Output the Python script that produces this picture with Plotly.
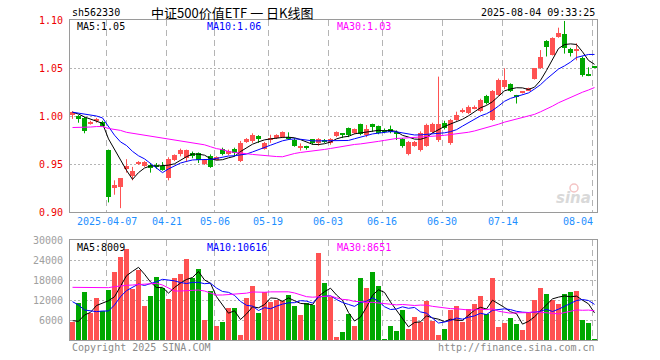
import numpy as np
import pandas as pd
import plotly.graph_objects as go

# ---------------- data ----------------
dates = ["03-27", "03-28", "03-31",
         "04-01", "04-02", "04-03", "04-07", "04-08", "04-09", "04-10", "04-11",
         "04-14", "04-15", "04-16", "04-17", "04-18", "04-21", "04-22", "04-23", "04-24", "04-25",
         "04-28", "04-29", "04-30",
         "05-06", "05-07", "05-08", "05-09", "05-12", "05-13", "05-14", "05-15", "05-16",
         "05-19", "05-20", "05-21", "05-22", "05-23", "05-26", "05-27", "05-28", "05-29", "05-30",
         "06-03", "06-04", "06-05", "06-06", "06-09", "06-10", "06-11", "06-12", "06-13",
         "06-16", "06-17", "06-18", "06-19", "06-20", "06-23", "06-24", "06-25", "06-26", "06-27",
         "06-30", "07-01", "07-02", "07-03", "07-04", "07-07", "07-08", "07-09", "07-10", "07-11",
         "07-14", "07-15", "07-16", "07-17", "07-18", "07-21", "07-22", "07-23", "07-24", "07-25",
         "07-28", "07-29", "07-30", "07-31", "08-01", "08-04"]

opens = [1.002, 1.000, 0.9976, 0.9924, 0.995, 0.9934, 0.9646, 0.926, 0.926, 0.945,
         0.937, 0.950, 0.948, 0.949, 0.948, 0.948, 0.935, 0.954, 0.960, 0.956,
         0.961, 0.961, 0.950, 0.958, 0.955, 0.9653, 0.9604, 0.9653, 0.953, 0.9732,
         0.974, 0.979, 0.966, 0.975, 0.977, 0.978, 0.978, 0.975, 0.967, 0.9675,
         0.9757, 0.972, 0.975, 0.972, 0.9795, 0.9815, 0.987, 0.9826, 0.9915, 0.980,
         0.9917, 0.9896, 0.9854, 0.9865, 0.9837, 0.976, 0.960, 0.969, 0.965, 0.969,
         0.983, 0.975, 0.993, 0.972, 0.996, 1.005, 1.0032, 1.008, 1.005, 1.0208,
         0.996, 1.022, 1.0305, 1.0333, 1.021, 1.024, 1.027, 1.039, 1.0497, 1.078,
         1.0635, 1.082, 1.085, 1.0695, 1.068, 1.060, 1.0425, 1.0505]
highs = [1.005, 1.001, 0.999, 0.995, 0.998, 0.995, 0.965, 0.933, 0.935, 0.955,
         0.947, 0.953, 0.953, 0.951, 0.951, 0.952, 0.957, 0.960, 0.966, 0.965,
         0.963, 0.962, 0.955, 0.960, 0.958, 0.967, 0.965, 0.967, 0.974, 0.977,
         0.982, 0.980, 0.973, 0.9805, 0.981, 0.984, 0.983, 0.977, 0.9715, 0.969,
         0.976, 0.977, 0.976, 0.977, 0.984, 0.982, 0.988, 0.987, 0.992, 0.9906,
         0.992, 0.990, 0.987, 0.990, 0.985, 0.977, 0.974, 0.974, 0.984, 0.992,
         0.993, 1.041, 0.995, 0.997, 1.0045, 1.008, 1.011, 1.011, 1.018, 1.022,
         1.027, 1.039, 1.0497, 1.034, 1.022, 1.026, 1.0295, 1.050, 1.0687, 1.079,
         1.082, 1.092, 1.099, 1.071, 1.0757, 1.062, 1.0507, 1.0505]
lows = [0.997, 0.993, 0.982, 0.991, 0.993, 0.989, 0.910, 0.918, 0.904, 0.941,
        0.933, 0.949, 0.947, 0.941, 0.945, 0.943, 0.933, 0.953, 0.958, 0.952,
        0.956, 0.951, 0.949, 0.946, 0.954, 0.959, 0.959, 0.958, 0.952, 0.972,
        0.972, 0.972, 0.965, 0.972, 0.976, 0.977, 0.975, 0.968, 0.964, 0.965,
        0.970, 0.969, 0.972, 0.970, 0.978, 0.977, 0.978, 0.981, 0.980, 0.978,
        0.9837, 0.981, 0.982, 0.982, 0.975, 0.967, 0.959, 0.968, 0.963, 0.968,
        0.982, 0.973, 0.986, 0.970, 0.995, 1.003, 1.002, 1.007, 1.004, 1.012,
        0.995, 1.021, 1.028, 1.025, 1.013, 1.0235, 1.026, 1.038, 1.049, 1.062,
        1.063, 1.0815, 1.065, 1.062, 1.058, 1.041, 1.0415, 1.050]
closes = [1.004, 0.997, 0.984, 0.994, 0.9966, 0.990, 0.916, 0.928, 0.935, 0.948,
          0.943, 0.951, 0.952, 0.946, 0.947, 0.944, 0.955, 0.959, 0.965, 0.965,
          0.958, 0.954, 0.954, 0.947, 0.957, 0.9604, 0.9639, 0.9615, 0.972, 0.9757,
          0.980, 0.976, 0.972, 0.977, 0.980, 0.9835, 0.977, 0.969, 0.9675, 0.967,
          0.972, 0.9757, 0.9735, 0.976, 0.9837, 0.981, 0.980, 0.9865, 0.9815, 0.9865,
          0.989, 0.982, 0.9837, 0.9837, 0.981, 0.9688, 0.9732, 0.973, 0.9826, 0.991,
          0.992, 0.9917, 0.988, 0.9958, 1.0015, 1.006, 1.0097, 1.009, 1.0167, 1.0135,
          1.0258, 1.0375, 1.0375, 1.0264, 1.020, 1.025, 1.029, 1.0497, 1.0618, 1.072,
          1.081, 1.0868, 1.0705, 1.0653, 1.069, 1.0427, 1.042, 1.050]
volumes = [5500, 11000, 14500, 8000, 12700, 8700, 15000, 20500, 24900, 27300,
           15300, 21000, 10200, 13200, 18900, 15700, 12300, 18700, 19800, 24300,
           18700, 21300, 6000, 14700, 4300, 5500, 9700, 9700, 1500, 12700,
           16200, 8200, 14500, 11500, 12000, 11700, 13500, 10200, 7500, 11200,
           10500, 26200, 17000, 12800, 1000, 2500, 7900, 4300, 18700, 15700,
           20500, 16200, 300, 4300, 2700, 9000, 3400, 6900, 5300, 11700,
           5800, 1500, 3300, 8900, 10200, 5500, 9300, 10800, 13200, 7700,
           18700, 4000, 5200, 6700, 4900, 3000, 8200, 12000, 15700, 13800,
           12000, 10800, 13800, 14500, 14700, 6000, 5200, 300]

ma5_head = [1.004, 1.002, 0.999, 0.997]
ma10_head = [1.004, 1.003, 1.002, 1.001, 1.000, 0.998, 0.989, 0.980, 0.973]
ma30_head = [0.988, 0.988, 0.988, 0.9885, 0.989, 0.989, 0.987, 0.986, 0.985, 0.983,
             0.982, 0.981, 0.980, 0.979, 0.978, 0.977, 0.9765, 0.9755, 0.9745, 0.9735,
             0.9725, 0.971, 0.970, 0.968, 0.966, 0.965, 0.963, 0.962, 0.961]
vma5_head = [5800, 5600, 7500, 8300]
vma10_head = [11500, 10500, 9000, 8700, 8500, 8700, 8700, 10500, 13000]
vma30_head = [15800, 15800, 15700, 15700, 15600, 15600, 15700, 16000, 16300, 16400,
              16500, 16600, 16700, 16800, 17000, 16500, 15500, 14700, 14700, 14800,
              14800, 15000, 14700, 14200, 13500, 13500, 13600, 13700, 13900]

grid_dates = ["04-07", "04-21", "05-06", "05-19", "06-03", "06-16", "06-30", "07-14", "08-04"]
grid_labels = ["2025-04-07", "04-21", "05-06", "05-19", "06-03", "06-16", "06-30", "07-14", "08-04"]
price_ticks = [0.90, 0.95, 1.00, 1.05, 1.10]
price_ticktext = ["0.90", "0.95", "1.00", "1.05", "1.10"]
vol_ticks = [6000, 12000, 18000, 24000, 30000]
vol_ticktext = ["6000", "12000", "18000", "24000", "30000"]

code = "sh562330"
title = "中证500价值ETF 一 日K线图"
stamp = "2025-08-04 09:33:25"
ma_price_text = ["MA5:1.05", "MA10:1.06", "MA30:1.03"]
ma_vol_text = ["MA5:8009", "MA10:10616", "MA30:8651"]

# ---------------- derived ----------------
n = len(closes)
idx = np.arange(n)
o = np.array(opens); h = np.array(highs); l = np.array(lows); c = np.array(closes)
vol = np.array(volumes, dtype=float)

RED = "#ff5252"
GREEN = "#00a800"
up = c > o
colors = [RED if u else GREEN for u in up]


def ma(values, win, head):
    s = pd.Series(values).rolling(win).mean().to_numpy()
    s[:win - 1] = head
    return s


ma5 = ma(c, 5, ma5_head)
ma10 = ma(c, 10, ma10_head)
ma30 = ma(c, 30, ma30_head)
vma5 = ma(vol, 5, vma5_head)
vma10 = ma(vol, 10, vma10_head)
vma30 = ma(vol, 30, vma30_head)

# plot geometry (pixels) -> paper coords
L, R, T, B = 70, 597, 20, 340


def px(x):
    return (x - L) / (R - L)


def py(y):
    return (B - y) / (B - T)


fig = go.Figure()

# wicks
for want_up, col in [(True, RED), (False, GREEN)]:
    xs, ys = [], []
    for i in range(n):
        if bool(up[i]) == want_up:
            xs += [i, i, None]
            ys += [l[i], h[i], None]
    fig.add_trace(go.Scatter(x=xs, y=ys, mode="lines", line=dict(color=col, width=1),
                             hoverinfo="skip", showlegend=False, xaxis="x", yaxis="y"))

# bodies
base = np.minimum(o, c)
height = np.maximum(np.abs(c - o), 0.0011)
fig.add_trace(go.Bar(x=idx, y=height, base=base, width=5 / 6, marker=dict(color=colors, line=dict(width=0)),
                     showlegend=False, xaxis="x", yaxis="y"))

# price MAs
for vals, col in [(ma5, "#000000"), (ma10, "#0000ff"), (ma30, "#ff00ff")]:
    fig.add_trace(go.Scatter(x=idx, y=vals, mode="lines", line=dict(color=col, width=1),
                             showlegend=False, hoverinfo="skip", xaxis="x", yaxis="y"))

# volume bars
fig.add_trace(go.Bar(x=idx, y=vol, width=5 / 6, marker=dict(color=colors, line=dict(width=0)),
                     showlegend=False, xaxis="x2", yaxis="y2"))
for vals, col in [(vma5, "#000000"), (vma10, "#0000ff"), (vma30, "#ff00ff")]:
    fig.add_trace(go.Scatter(x=idx, y=vals, mode="lines", line=dict(color=col, width=1),
                             showlegend=False, hoverinfo="skip", xaxis="x2", yaxis="y2"))

grid_t = [dates.index(d) - 1 / 3 for d in grid_dates]
xr = [-5 / 12, n - 1 + 5 / 12]
mono = "DejaVu Sans Mono"
common_x = dict(range=xr, showticklabels=False, tickvals=grid_t, ticks="", showgrid=True,
                griddash="6px,4px", gridcolor="#b4b4b4", gridwidth=1, showline=True, mirror=True,
                linecolor="#9a9a9a", linewidth=1, zeroline=False, fixedrange=True)
fig.update_layout(
    width=660, height=360,
    margin=dict(l=L, r=660 - R, t=T, b=360 - B, pad=0),
    paper_bgcolor="white", plot_bgcolor="white",
    barmode="overlay", bargap=0,
    showlegend=False,
    xaxis=dict(domain=[0, 1], anchor="y", **common_x),
    xaxis2=dict(domain=[0, 1], anchor="y2", matches="x", **common_x),
    yaxis=dict(domain=[py(212), 1], range=[0.90, 1.10], tickvals=price_ticks, ticktext=price_ticktext,
               tickfont=dict(family=mono, size=10, color="#ee0000"), ticks="outside", ticklen=4,
               tickcolor="rgba(0,0,0,0)", showgrid=True, griddash="2px,2px", gridcolor="#b4b4b4",
               showline=True, mirror=True, linecolor="#9a9a9a", linewidth=1, zeroline=False),
    yaxis2=dict(domain=[0, py(240)], range=[0, 30000], tickvals=vol_ticks, ticktext=vol_ticktext,
                tickfont=dict(family=mono, size=10, color="#a0a0a0"), ticks="outside", ticklen=4,
                tickcolor="rgba(0,0,0,0)", showgrid=True, griddash="2px,2px", gridcolor="#b4b4b4",
                showline=True, mirror=True, linecolor="#9a9a9a", linewidth=1, zeroline=False),
)

ann = []


def add_text(text, x, y, color="#000", size=10, xanchor="left", family=mono, **kw):
    ann.append(dict(text=text, x=px(x), y=py(y), xref="paper", yref="paper", showarrow=False,
                    xanchor=xanchor, yanchor="middle", font=dict(family=family, size=size, color=color), **kw))


add_text(code, 70, 12.5)
add_text(title, 232, 12, size=13, xanchor="center", family="Noto Sans CJK SC")
add_text(stamp, 597, 12.5, xanchor="right")
for txt, x0, col in zip(ma_price_text, [75, 205, 335], ["#000000", "#0000ff", "#ff00ff"]):
    add_text(txt, x0, 27, color=col)
for txt, x0, col in zip(ma_vol_text, [75, 205, 335], ["#000000", "#0000ff", "#ff00ff"]):
    add_text(txt, x0, 247, color=col)
for k, (g, lab) in enumerate(zip(grid_t, grid_labels)):
    xpix = L + (g - xr[0]) * (R - L) / (xr[1] - xr[0])
    if k == len(grid_labels) - 1:
        add_text(lab, 595, 221, color="#1e8fff", xanchor="right")
    else:
        add_text(lab, xpix, 221, color="#1e8fff", xanchor="center")
add_text("Copyright 2025 SINA.COM", 70, 347, color="#8a8a8a")
add_text("http://finance.sina.com.cn", 597, 347, color="#8a8a8a", xanchor="right")
ann.append(dict(text="<b><i>sina</i></b>", x=px(573), y=py(198), xref="paper", yref="paper",
                showarrow=False, xanchor="center", yanchor="middle",
                font=dict(family="DejaVu Sans", size=15, color="#d9d9d9")))
fig.update_layout(annotations=ann)
fig.add_shape(type="circle", xref="paper", yref="paper",
              x0=px(570), x1=px(578), y0=py(192), y1=py(184),
              line=dict(color="#f4c4c4", width=1.5), fillcolor="rgba(0,0,0,0)")

fig.write_html("out.html", config={"displayModeBar": False},
               post_script="document.body.style.margin='0px';")
